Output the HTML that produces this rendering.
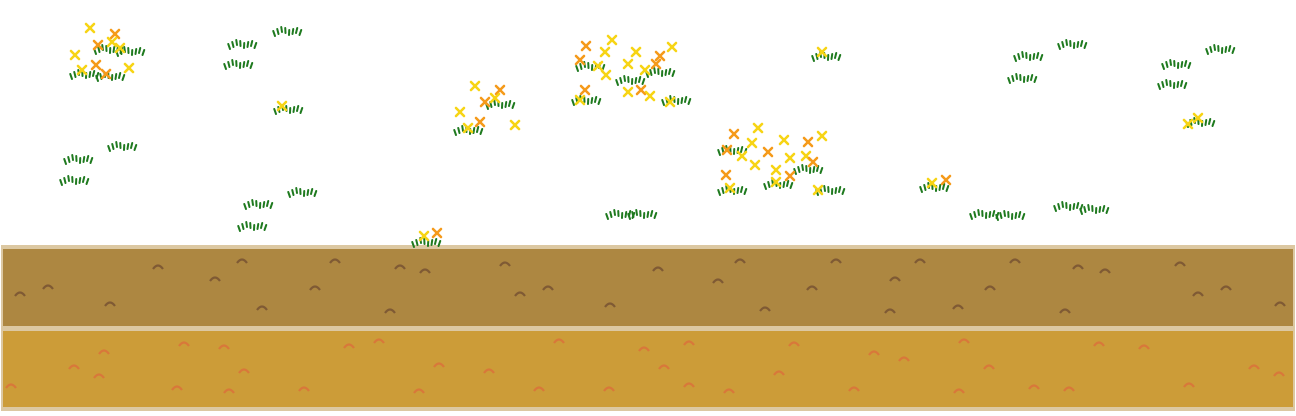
<!DOCTYPE html>
<html><head><meta charset="utf-8">
<style>
html,body{margin:0;padding:0;background:#fff;width:1296px;height:416px;overflow:hidden}
svg{display:block}
</style></head>
<body>
<svg id="scene" width="1296" height="416" viewBox="0 0 1296 416" xmlns="http://www.w3.org/2000/svg">
  <g id="soil">
    <rect x="1" y="245" width="1294" height="84" fill="#dcc8a2"/>
    <rect x="3" y="249" width="1290" height="77" fill="#ad8741"/>
    <rect x="1" y="327" width="1294" height="84" fill="#dcc8a2"/>
    <rect x="3" y="331" width="1290" height="76" fill="#cc9c38"/>
  </g>
  <g id="marks"></g>
  <g id="grass"></g>
  <g id="flowers"></g>
</svg>
<script>
const NS='http://www.w3.org/2000/svg';
const tufts=[[66,155],[110,142],[62,176],[230,40],[275,27],[226,60],[246,200],[290,188],[240,222],[608,210],[630,210],[972,210],[998,211],[1056,202],[1082,205],[1016,52],[1060,40],[1010,74],[1164,60],[1208,45],[1160,80],[814,52],[276,105],[414,238],[922,183],[1188,118],[72,70],[96,45],[574,96],[578,62],[618,76],[648,68],[664,96],[456,126],[488,100],[720,146],[766,180],[796,165],[818,186],[720,186],[98,72],[118,47]];
const flowerPts=[[90,28,0],[115,34,1],[98,45,1],[112,42,0],[75,55,0],[96,65,1],[82,70,0],[106,74,1],[120,48,0],[129,68,0],[282,106,0],[475,86,0],[500,90,1],[485,102,1],[495,98,0],[460,112,0],[480,122,1],[468,128,0],[515,125,0],[586,46,1],[605,52,0],[612,40,0],[636,52,0],[660,56,1],[672,47,0],[580,60,1],[598,66,0],[606,75,0],[628,64,0],[645,70,0],[656,64,1],[628,92,0],[641,90,1],[650,96,0],[585,90,1],[580,100,0],[670,102,0],[822,52,0],[734,134,1],[758,128,0],[752,143,0],[784,140,0],[808,142,1],[822,136,0],[727,150,1],[742,156,0],[768,152,1],[790,158,0],[806,156,0],[813,162,1],[755,165,0],[776,170,0],[790,176,1],[776,182,0],[726,175,1],[730,188,0],[818,190,0],[932,183,0],[946,180,1],[424,236,0],[437,233,1],[1198,118,0],[1188,124,0]];
const brownMarks=[[20,293],[48,286],[110,303],[158,266],[215,278],[242,260],[315,287],[335,260],[390,310],[400,266],[425,270],[505,263],[520,293],[548,287],[610,304],[658,268],[718,280],[740,260],[812,287],[836,260],[890,310],[895,278],[920,260],[958,306],[990,287],[1015,260],[1065,310],[1078,266],[1105,270],[1180,263],[1198,293],[1226,287],[1280,303],[765,308],[262,307]];
const goldMarks=[[105,351],[185,343],[225,346],[245,370],[178,387],[230,390],[305,388],[350,345],[380,340],[440,364],[490,370],[420,390],[540,388],[560,340],[645,348],[690,342],[730,390],[780,372],[795,343],[875,352],[905,358],[855,388],[960,390],[990,366],[1070,388],[1100,343],[1145,346],[1190,384],[1255,366],[1280,373],[12,385],[75,366],[100,375],[690,384],[610,388],[665,366],[965,340],[1035,386]];
const mk=(t,a)=>{const e=document.createElementNS(NS,t);for(const k in a)e.setAttribute(k,a[k]);return e;};
const gm=document.getElementById('marks');
brownMarks.forEach(p=>{const e=mk('path',{d:`M${p[0]-5} ${p[1]+3} Q${p[0]} ${p[1]-4} ${p[0]+5} ${p[1]+3}`,stroke:'#7f5a34','stroke-width':2.2,fill:'none'});


gm.appendChild(e);});
goldMarks.forEach(p=>{const e=mk('path',{d:`M${p[0]-6} ${p[1]+3} Q${p[0]-1} ${p[1]-4} ${p[0]+4} ${p[1]+3}`,stroke:'#d8783a','stroke-width':2.2,fill:'none'});


gm.appendChild(e);});
const gg=document.getElementById('grass');
const hump=[4,2,0,1,3,2,1,3];
tufts.forEach(p=>{const g=mk('g',{stroke:'#1f7a1f','stroke-width':2,'stroke-linecap':'round'});


for(let i=0;i<8;i++){const x=p[0]+i*3.5;const dy=hump[i];const tilt=(i-3.5)*0.5;
g.appendChild(mk('line',{x1:x,y1:p[1]+dy+5,x2:x+tilt,y2:p[1]+dy}));}
gg.appendChild(g);});
const gf=document.getElementById('flowers');
flowerPts.forEach(p=>{const c=p[2]?'#f59a1a':'#f7d414';const s=4;
const g=mk('g',{stroke:c,'stroke-width':2.6,'stroke-linecap':'round'});


g.appendChild(mk('line',{x1:p[0]-s,y1:p[1]-s,x2:p[0]+s,y2:p[1]+s}));
g.appendChild(mk('line',{x1:p[0]+s,y1:p[1]-s,x2:p[0]-s,y2:p[1]+s}));
gf.appendChild(g);});
</script>
</body></html>
